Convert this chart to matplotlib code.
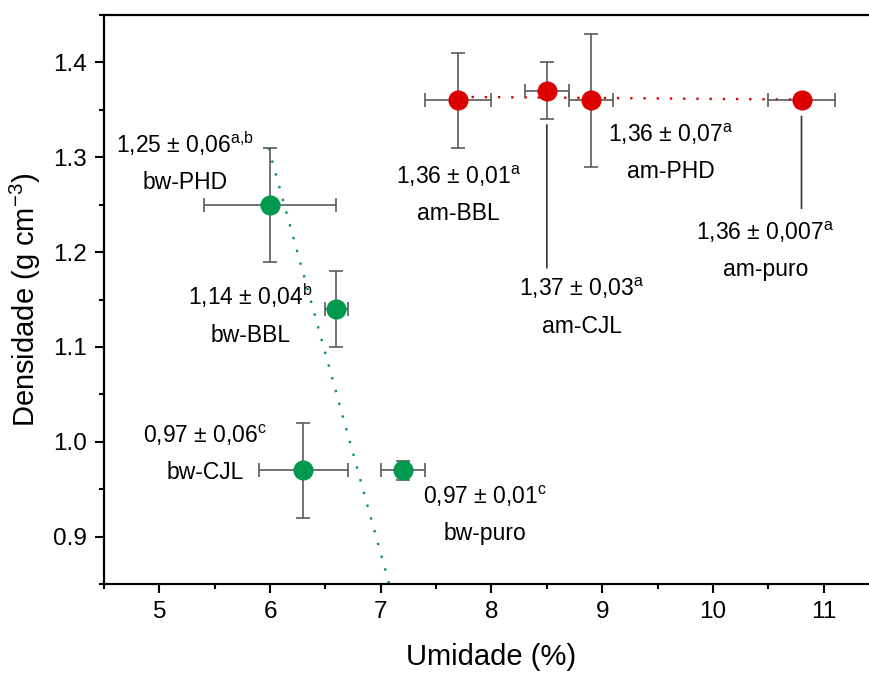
import numpy as np
import matplotlib.pyplot as plt

plt.rcParams['font.family'] = ['Liberation Sans', 'DejaVu Sans']
plt.rcParams['mathtext.fontset'] = 'custom'
plt.rcParams['mathtext.rm'] = 'Liberation Sans'

# amostras bw (verde)
bw_nomes = ['bw-PHD', 'bw-BBL', 'bw-CJL', 'bw-puro']
bw_umid = np.array([6.0, 6.6, 6.3, 7.2])
bw_umid_err = np.array([0.6, 0.1, 0.4, 0.2])
bw_dens = np.array([1.25, 1.14, 0.97, 0.97])
bw_dens_err = np.array([0.06, 0.04, 0.05, 0.01])
bw_txt = ['1,25 ± 0,06', '1,14 ± 0,04', '0,97 ± 0,06', '0,97 ± 0,01']
bw_letras = ['a{,}b', 'b', 'c', 'c']

# amostras am (vermelho)
am_nomes = ['am-BBL', 'am-CJL', 'am-PHD', 'am-puro']
am_umid = np.array([7.7, 8.5, 8.9, 10.8])
am_umid_err = np.array([0.3, 0.2, 0.2, 0.3])
am_dens = np.array([1.36, 1.37, 1.36, 1.36])
am_dens_err = np.array([0.05, 0.03, 0.07, 0.007])
am_txt = ['1,36 ± 0,01', '1,37 ± 0,03', '1,36 ± 0,07', '1,36 ± 0,007']
am_letras = ['a', 'a', 'a', 'a']

verde = '#00994f'
vermelho = '#dd0000'
cinza = '#5a5a5a'

fig = plt.figure(figsize=(8.69, 6.75), dpi=100)
ax = fig.add_axes([104 / 869, 1 - 584 / 675, (879 - 104) / 869, (584 - 15) / 675])

# retas de tendencia
a, b = np.polyfit(bw_dens, bw_umid, 1)
yy = np.linspace(bw_dens.max() + 0.06, 0.80, 50)
ax.plot(a * yy + b, yy, color=verde, lw=1.7, ls=(0, (1, 4.6)), zorder=1)
c, d = np.polyfit(am_umid, am_dens, 1)
xx = np.linspace(am_umid.min(), am_umid.max(), 50)
ax.plot(xx, c * xx + d, color=vermelho, lw=1.7, ls=(0, (1, 4.6)), zorder=1)

for x, y, xe, ye, cor in [(bw_umid, bw_dens, bw_umid_err, bw_dens_err, verde),
                          (am_umid, am_dens, am_umid_err, am_dens_err, vermelho)]:
    ax.errorbar(x, y, xerr=xe, yerr=ye, fmt='o', ms=13.5, mfc=cor, mec=cor,
                ecolor=cinza, elinewidth=1.2, capsize=5, capthick=1.2, zorder=3)

# posicao dos rotulos (pixels em relacao ao ponto)
bw_off = [(-85, 43), (-86, -5), (-98, 17), (82, -44)]
am_off = [(0, -94), (35, -216), (80, -52), (-36, -150)]

for nomes, txts, letras, xs, ys, offs in [(bw_nomes, bw_txt, bw_letras, bw_umid, bw_dens, bw_off),
                                         (am_nomes, am_txt, am_letras, am_umid, am_dens, am_off)]:
    for n, t, l, x, y, o in zip(nomes, txts, letras, xs, ys, offs):
        s = t + r'$^{\mathregular{' + l + '}}$\n' + n
        ax.annotate(s, (x, y), xytext=o, textcoords='offset pixels',
                    ha='center', va='center', fontsize=16.5, linespacing=1.75)

# linhas de chamada
for x, y, dy, gap in [(am_umid[1], am_dens[1], 177, 24.5), (am_umid[3], am_dens[3], 108, 11.5)]:
    ax.annotate('', (x, y), xytext=(0, -dy), textcoords='offset pixels',
                arrowprops=dict(arrowstyle='-', color='#333333', lw=1.2,
                                shrinkA=0, shrinkB=gap))

ax.set_xlim(4.5, 11.5)
ax.set_ylim(0.85, 1.45)
ax.set_xticks([5, 6, 7, 8, 9, 10, 11])
ax.set_xticks(np.arange(4.5, 11.6, 0.5), minor=True)
ax.set_yticks([0.9, 1.0, 1.1, 1.2, 1.3, 1.4])
ax.set_yticks(np.arange(0.85, 1.451, 0.05), minor=True)
ax.set_yticklabels(['0.9', '1.0', '1.1', '1.2', '1.3', '1.4'])
ax.tick_params(which='major', length=6.5, width=1.5, labelsize=17.5, pad=6)
ax.tick_params(which='minor', length=3.5, width=1.5)
for s in ax.spines.values():
    s.set_linewidth(1.6)
ax.spines['right'].set_visible(False)

ax.set_xlabel('Umidade (%)', fontsize=21, labelpad=14)
ax.set_ylabel(r'Densidade (g cm$^{\mathregular{-3}}$)', fontsize=21, labelpad=7)

fig.savefig('out.png', dpi=100)
